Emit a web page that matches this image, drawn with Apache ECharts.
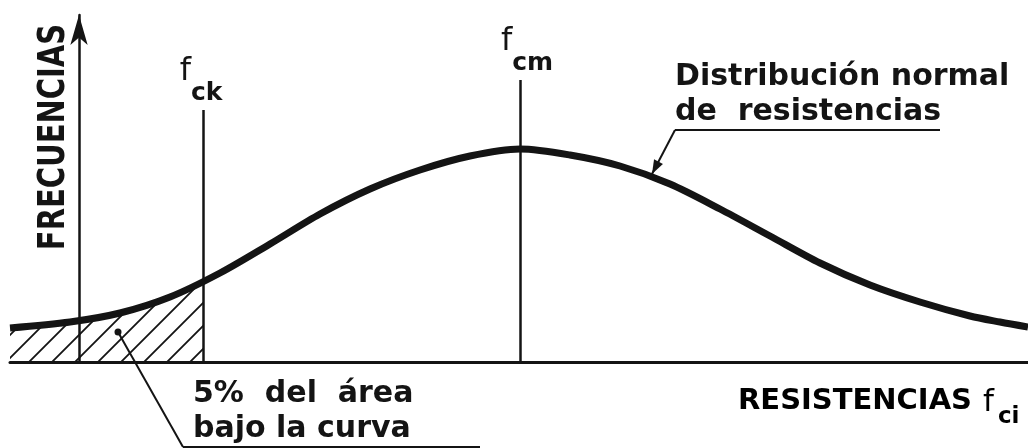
<!DOCTYPE html>
<html>
<head>
<meta charset="utf-8">
<script src="https://cdn.jsdelivr.net/npm/echarts@6/dist/echarts.min.js"></script>
<style>
  html, body { margin: 0; padding: 0; background: #fff; }
  #chart { width: 1028px; height: 448px; }
</style>
</head>
<body>
<div id="chart"></div>
<script>
// Strength (relative units, origin at the frequency axis) and frequency of the normal curve
const strength  = [-69, -9, 41, 91, 141, 191, 241, 291, 341, 391, 441, 491, 541, 591, 641, 691, 741, 791, 841, 891, 921, 949];
const frequency = [ 34, 40, 49, 65,  89, 118, 148, 173, 192, 206, 213, 207, 196, 178, 153, 126,  99,  77,  60,  46,  40,  35];

// Characteristic (5 % fractile) and mean strength, with the curve height at the fractile
const refNames  = ['ck', 'cm'];
const refValues = [124, 441];
const refTops   = [252, 282];
const fckFrequency = 81;

// Annotation anchors (strength, frequency)
const curveNoteLeader = [[596, 232], [573, 188]];
const curveNoteRule   = [[596, 232], [861, 232]];
const areaNoteLeader  = [[39, 30], [104, -85]];
const areaNoteRule    = [[104, -85], [401, -85]];

const INK = '#141414';
const FONT = 'DejaVu Sans';

const curve = strength.map((x, i) => [x, frequency[i]]);
const tail = curve.filter(p => p[0] < refValues[0]).concat([[refValues[0], fckFrequency]]);

function hatchPattern() {
  const s = 23;
  const c = document.createElement('canvas');
  c.width = s; c.height = s;
  const g = c.getContext('2d');
  g.strokeStyle = INK;
  g.lineWidth = 1.8;
  g.beginPath();
  g.moveTo(-2, s + 2); g.lineTo(s + 2, -2);
  g.moveTo(-2, 2); g.lineTo(2, -2);
  g.moveTo(s - 2, s + 2); g.lineTo(s + 2, s - 2);
  g.stroke();
  return c;
}

// Horizontal nudges of the f_ck / f_cm tags (label padding, px)
const refLabelPadding = [[0, 6, 0, 0], [0, 0, 0, 12]];

const chart = echarts.init(document.getElementById('chart'), null, { renderer: 'canvas' });

chart.setOption({
  animation: false,
  grid: { left: 10, right: 0, top: 15, bottom: 86 },
  xAxis: {
    type: 'value', min: -69, max: 949,
    axisLine: { lineStyle: { color: INK, width: 3 } },
    axisTick: { show: false }, axisLabel: { show: false }, splitLine: { show: false }
  },
  yAxis: {
    type: 'value', min: 0, max: 347,
    axisLine: {
      show: true, onZero: true,
      symbol: ['none', 'arrow'], symbolSize: [13, 30],
      lineStyle: { color: INK, width: 2.5 }
    },
    axisTick: { show: false }, axisLabel: { show: false }, splitLine: { show: false }
  },
  series: [
    {
      name: 'tail', type: 'line', data: tail, smooth: 0.3, symbol: 'none', silent: true, z: 1,
      lineStyle: { opacity: 0 },
      areaStyle: { color: { image: hatchPattern(), repeat: 'repeat' }, opacity: 1 }
    },
    {
      name: 'curve', type: 'line', data: curve, smooth: 0.3, symbol: 'none', silent: true, z: 3,
      lineStyle: { color: INK, width: 7 },
      markLine: {
        silent: true, symbol: ['none', 'none'], animation: false,
        lineStyle: { color: INK, width: 2.5, type: 'solid' },
        label: {
          show: true, position: 'end', distance: 4,
          formatter: p => '{f|f}{s|' + p.name + '}',
          rich: {
            f: { fontFamily: FONT, fontSize: 32, color: INK, verticalAlign: 'top', lineHeight: 30, padding: [0, 0, 0, 2] },
            s: { fontFamily: FONT, fontSize: 25, fontWeight: 'bold', color: INK, verticalAlign: 'bottom', lineHeight: 50 }
          }
        },
        data: refValues.map((v, i) => [
          { name: refNames[i], coord: [v, 0] },
          { name: refNames[i], coord: [v, refTops[i]], label: { padding: refLabelPadding[i] } }
        ])
      }
    }
  ]
});

// Annotations placed from the axes' own scales
const px = p => chart.convertToPixel({ gridIndex: 0 }, p);
const seg = (a, b, w) => ({
  type: 'line', silent: true, z: 10,
  shape: { x1: a[0], y1: a[1], x2: b[0], y2: b[1] },
  style: { stroke: INK, lineWidth: w }
});

const lA = px(curveNoteLeader[0]), lB = px(curveNoteLeader[1]);
const ang = Math.atan2(lB[1] - lA[1], lB[0] - lA[0]);
const ah = 14, aw = 5;
const back = [lB[0] - ah * Math.cos(ang), lB[1] - ah * Math.sin(ang)];
const arrow = [
  lB,
  [back[0] + aw * Math.sin(ang), back[1] - aw * Math.cos(ang)],
  [back[0] - aw * Math.sin(ang), back[1] + aw * Math.cos(ang)]
];

const dA = px(areaNoteLeader[0]), dB = px(areaNoteLeader[1]);
const r1 = px(curveNoteRule[0]), r2 = px(curveNoteRule[1]);
const u1 = px(areaNoteRule[0]), u2 = px(areaNoteRule[1]);

const txt = (text, x, y, size) => ({
  type: 'text', silent: true, z: 10,
  style: {
    text, x, y, fill: INK, font: 'bold ' + size + 'px "' + FONT + '"',
    align: 'left', verticalAlign: 'middle'
  }
});

chart.setOption({
  graphic: [
    seg(lA, lB, 2), seg(r1, r2, 2),
    { type: 'polygon', silent: true, z: 10, shape: { points: arrow }, style: { fill: INK } },
    seg(dA, dB, 2), seg(u1, u2, 2),
    { type: 'circle', silent: true, z: 10, shape: { cx: dA[0], cy: dA[1], r: 3.5 }, style: { fill: INK } },
    txt('Distribución normal', 675, 77, 30),
    txt('de  resistencias', 675, 112, 30),
    txt('5%  del  área', 193, 394, 30),
    txt('bajo la curva', 193, 429, 30),
    {
      type: 'text', silent: true, z: 10, x: 54, y: 137, rotation: Math.PI / 2, scaleY: 1.3,
      style: { text: 'FRECUENCIAS', fill: INK, font: 'bold 29px "' + FONT + '"', align: 'center', verticalAlign: 'middle' }
    },
    {
      type: 'text', silent: true, z: 10,
      style: {
        x: 738, y: 387, align: 'left', verticalAlign: 'top',
        text: '{a|RESISTENCIAS}{f|f}{s|ci}',
        rich: {
          a: { fontFamily: FONT, fontSize: 29, fontWeight: 'bold', color: INK, lineHeight: 42, verticalAlign: 'top' },
          f: { fontFamily: FONT, fontSize: 31, color: INK, lineHeight: 32, verticalAlign: 'top', padding: [0, 4, 0, 11] },
          s: { fontFamily: FONT, fontSize: 23, fontWeight: 'bold', color: INK, lineHeight: 42, verticalAlign: 'bottom' }
        }
      }
    }
  ]
});
</script>
</body>
</html>
